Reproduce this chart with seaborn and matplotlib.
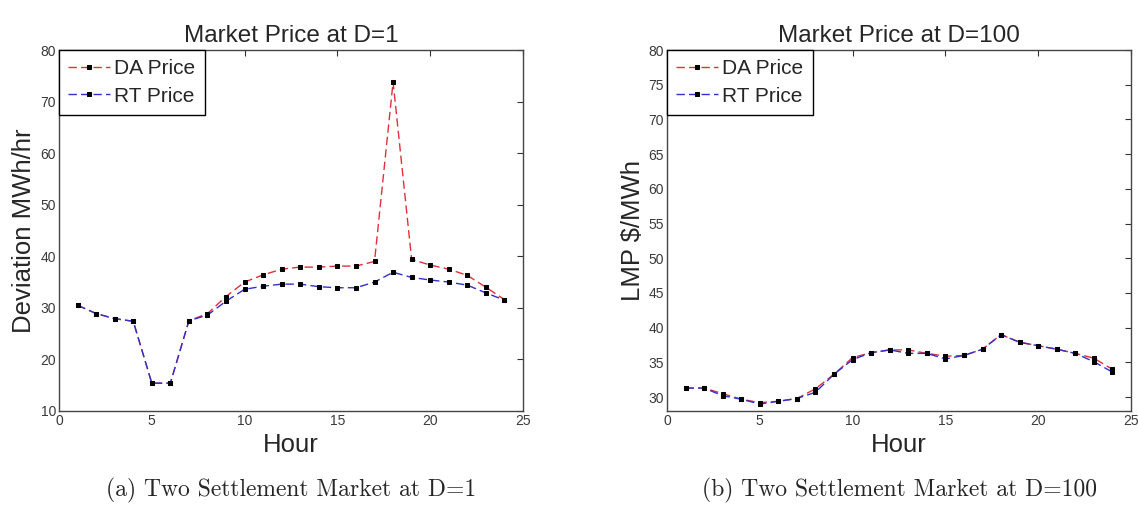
import numpy as np
import pandas as pd
import matplotlib
matplotlib.use("Agg")
import matplotlib.pyplot as plt
import seaborn as sns

hours = list(range(1, 25))

# D=1
da_d1 = [30.5, 28.9, 27.9, 27.4, 15.4, 15.4, 27.5, 28.9, 32.2, 35.0, 36.4, 37.5,
         37.9, 37.9, 38.1, 38.1, 39.0, 73.8, 39.4, 38.3, 37.5, 36.3, 34.0, 31.6]
rt_d1 = [30.5, 28.9, 27.9, 27.4, 15.4, 15.4, 27.5, 28.6, 31.3, 33.6, 34.2, 34.6,
         34.6, 34.1, 33.9, 33.9, 35.0, 36.9, 35.9, 35.4, 35.0, 34.4, 32.9, 31.5]

# D=100
da_d100 = [31.3, 31.3, 30.5, 29.7, 29.2, 29.4, 29.8, 31.2, 33.3, 35.7, 36.4, 36.8,
           36.8, 36.3, 35.9, 36.0, 36.9, 39.0, 37.9, 37.4, 36.9, 36.3, 35.6, 34.0]
rt_d100 = [31.3, 31.3, 30.2, 29.7, 29.0, 29.4, 29.8, 30.7, 33.3, 35.4, 36.4, 36.8,
           36.3, 36.3, 35.5, 36.0, 36.9, 39.0, 37.9, 37.4, 36.9, 36.3, 35.1, 33.6]

series_labels = ["DA Price", "RT Price"]
titles = ["Market Price at D=1", "Market Price at D=100"]
ylabels = ["Deviation MWh/hr", "LMP $/MWh"]
captions = ["(a) Two Settlement Market at D=1", "(b) Two Settlement Market at D=100"]
xlabel = "Hour"

sns.set_style("white")
plt.rcParams['font.family'] = ['Liberation Sans', 'DejaVu Sans']

fig = plt.figure(figsize=(11.38, 5.12), dpi=100)
W, H = 1138, 512
ax1 = fig.add_axes([59 / W, 1 - 411 / H, (523 - 59) / W, (411 - 50) / H])
ax2 = fig.add_axes([667 / W, 1 - 411 / H, (1131 - 667) / W, (411 - 50) / H])

colors = ["#e0303a", "#3030d0"]
datasets = [(da_d1, rt_d1), (da_d100, rt_d100)]
ylims = [(10, 80), (28, 80)]
yticks = [np.arange(10, 81, 10), np.arange(30, 81, 5)]

for i, ax in enumerate([ax1, ax2]):
    for j, vals in enumerate(datasets[i]):
        df = pd.DataFrame({"Hour": hours, "Price": vals})
        sns.lineplot(data=df, x="Hour", y="Price", ax=ax, color=colors[j],
                     linestyle=(0, (6, 3)), linewidth=1.0, marker="s",
                     markersize=2.2, markerfacecolor="black",
                     markeredgecolor="black", label=series_labels[j])
    ax.set_xlim(0, 25)
    ax.set_ylim(*ylims[i])
    ax.set_xticks(np.arange(0, 26, 5))
    ax.set_yticks(yticks[i])
    ax.tick_params(direction="in", top=True, right=True, length=4,
                   labelsize=10, labelcolor="#3a3a3a", color="#333333",
                   width=0.8, pad=2)
    for sp in ax.spines.values():
        sp.set_color("#444444")
        sp.set_linewidth(1.0)
    ax.set_title(titles[i], fontsize=17.5, pad=6)
    ax.set_xlabel(xlabel, fontsize=18.5, labelpad=4)
    ax.set_ylabel(ylabels[i], fontsize=18.5, labelpad=3)
    leg = ax.legend(loc="upper left", fontsize=15, frameon=True, fancybox=False,
                    edgecolor="black", framealpha=1, borderaxespad=0,
                    handlelength=2.0, handletextpad=0.2, borderpad=0.45,
                    labelspacing=0.4, numpoints=1)
    leg.get_frame().set_linewidth(1.0)

for cap, xc in zip(captions, [291, 899]):
    fig.text(xc / W, 1 - 490 / H, cap, ha="center", va="center", fontsize=17,
             family=["cmr10", "DejaVu Serif"])

fig.savefig("out.png", dpi=100)
